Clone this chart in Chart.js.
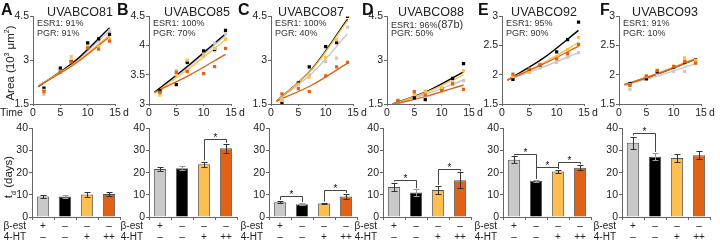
<!DOCTYPE html>
<html>
<head>
<meta charset="utf-8">
<script src="https://cdn.jsdelivr.net/npm/chart.js@4.4.0/dist/chart.umd.min.js"></script>
<style>
body { margin: 0; background: #fff; font-family: "Liberation Sans", Arial, sans-serif; }
#fig { position: relative; width: 720px; height: 242px; overflow: hidden; }
#fig canvas { position: absolute; }
.t { position: absolute; white-space: nowrap; color: #222; line-height: 1; }
</style>
</head>
<body>
<div id="fig"></div>
<script>
// ---- data ----
var days = [2, 5, 7, 10, 12, 14];
var fitDays = [1, 7.5, 14];
var titles = ['UVABCO81', 'UVABCO85', 'UVABCO87', 'UVABCO88', 'UVABCO92', 'UVABCO93'];
var letters = ['A', 'B', 'C', 'D', 'E', 'F'];
var esr1 = ['91%', '100%', '100%', '96%', '95%', '91%'];
var pgr = ['91%', '70%', '40%', '50%', '90%', '10%'];

// y axis of the growth panels (10^3 um^2)
var areaMin = [1.5, 3, 1.5, 1.5, 1.5, 1.5];
var areaMax = [4.5, 4.5, 4.5, 4.5, 3, 3];
var areaStep = [1.5, 0.5, 1.5, 1.5, 0.5, 0.5];

// measured areas per panel, at the days above
var areaGrey = [
   [1.83, 2.68, 3.00, 3.50, 3.65, 4.00],
   [3.20, 3.57, 3.70, 3.88, 4.04, 4.20],
   [1.65, 2.15, 2.50, 2.95, 3.07, 4.13],
   [1.55, 1.80, 1.75, 1.98, 2.28, 2.30],
   [1.93, 2.05, 2.12, 2.21, 2.30, 2.38],
   [1.75, 1.95, 2.02, 2.06, 2.06, 2.20]
];
var areaBlack = [
   [2.04, 2.73, 2.95, 3.59, 3.73, 3.88],
   [3.23, 3.33, 3.71, 3.91, 3.93, 4.26],
   [1.53, 2.22, 2.77, 3.46, 3.60, 4.50],
   [1.58, 1.71, 1.65, 2.03, 2.38, 2.88],
   [1.92, 2.08, 2.17, 2.39, 2.60, 2.90],
   [1.85, 1.93, 2.05, 2.13, 2.22, 2.26]
];
var areaYellow = [
   [1.97, 2.62, 3.12, 3.47, 3.45, 3.72],
   [3.15, 3.50, 3.75, 3.82, 3.95, 4.11],
   [1.62, 2.18, 2.42, 3.09, 3.69, 4.53],
   [1.60, 1.85, 1.95, 2.05, 2.25, 2.63],
   [1.97, 2.04, 2.18, 2.30, 2.43, 2.64],
   [1.83, 1.97, 2.08, 2.15, 2.29, 2.25]
];
var areaOrange = [
   [1.92, 2.60, 2.94, 3.41, 3.38, 3.65],
   [3.20, 3.54, 3.56, 3.52, 3.64, 3.95],
   [1.85, 2.03, 1.92, 2.46, 2.77, 2.92],
   [1.62, 1.92, 1.80, 1.96, 2.19, 2.00],
   [2.01, 2.10, 2.17, 2.27, 2.36, 2.52],
   [1.82, 1.98, 2.07, 2.14, 2.23, 2.20]
];

// fitted curves, read at fitDays
var fitGrey = [[2.10, 2.92, 4.00], [3.20, 3.66, 4.17], [1.60, 2.55, 3.90], [1.50, 1.86, 2.32], [1.91, 2.13, 2.38], [1.82, 1.99, 2.19]];
var fitBlack = [[2.10, 2.94, 4.11], [3.20, 3.68, 4.20], [1.60, 2.70, 4.40], [1.50, 1.95, 2.60], [1.91, 2.28, 2.76], [1.83, 2.03, 2.27]];
var fitYellow = [[2.12, 2.88, 3.85], [3.18, 3.62, 4.10], [1.60, 2.68, 4.35], [1.50, 1.92, 2.50], [1.91, 2.20, 2.55], [1.83, 2.04, 2.28]];
var fitOrange = [[2.12, 2.85, 3.80], [3.20, 3.50, 3.85], [1.60, 2.15, 2.90], [1.48, 1.78, 2.15], [1.91, 2.18, 2.49], [1.83, 2.03, 2.27]];

// doubling time t_d (days): grey, black, yellow, orange
var betaEst = ['+', '\u2013', '\u2013', '\u2013'];
var fourHT = ['\u2013', '\u2013', '+', '++'];
var tdMean = [
   [9.3, 9.2, 10.2, 10.4],
   [21.7, 22.0, 23.8, 31.0],
   [6.7, 5.8, 6.1, 9.2],
   [13.5, 11.0, 12.2, 16.6],
   [25.8, 16.3, 20.5, 22.2],
   [33.5, 27.2, 26.6, 27.9]
];
var tdErr = [
   [0.7, 0.8, 1.0, 1.0],
   [1.0, 1.0, 1.2, 2.0],
   [0.5, 0.5, 0.4, 1.2],
   [2.0, 1.5, 1.8, 3.5],
   [1.5, 0.5, 0.8, 1.2],
   [2.8, 1.7, 1.7, 1.7]
];
// significance brackets: [from bar, to bar, level]
var sigs = [
   [],
   [[2, 3, 35]],
   [[0, 1, 9.5], [2, 3, 12.1]],
   [[0, 1, 16.9], [2, 3, 21.6]],
   [[0, 1, 28.6], [1, 2, 22.6], [2, 3, 24.9]],
   [[0, 1, 38]]
];

// ---- layout ----
var FONT = '"Liberation Sans", Arial, sans-serif';
var condColors = ['#c9c9c9', '#000000', '#fdbf4f', '#df6216'];
var axisColor = '#666';
var topAxisX = [33, 149, 271, 387, 502, 619];
var botAxisX = [32, 149, 269, 383, 503, 622];
var titleX = [80, 197, 311, 431, 544, 665];
var letterX = [1, 117, 238, 362, 478, 600];
var TOP_Y = 16, TOP_H = 88, TOP_W = 82;
var BOT_Y = 128, BOT_H = 89, BOT_W = 88;

var fig = document.getElementById('fig');

function addText(html, x, y, css) {
   var d = document.createElement('div');
   d.className = 't';
   d.innerHTML = html;
   d.style.left = x + 'px';
   d.style.top = y + 'px';
   d.style.cssText += css || '';
   fig.appendChild(d);
   return d;
}

function addCanvas(x, y, w, h) {
   var c = document.createElement('canvas');
   c.width = w; c.height = h;
   c.style.left = x + 'px'; c.style.top = y + 'px';
   c.style.width = w + 'px'; c.style.height = h + 'px';
   fig.appendChild(c);
   return c;
}

function pts(xs, ys) {
   return xs.map(function (x, i) { return { x: x, y: ys[i] }; });
}

function tickFont() { return { family: FONT, size: 10.5 }; }

// 3.0 -> "3", 4.5 -> "4.5"
function plainNum(v) { return String(Math.round(v * 100) / 100); }

function topChart(p) {
   var padTop = 7, padRight = 8, yw = 24, xh = 13;
   var cv = addCanvas(topAxisX[p] - yw, TOP_Y - padTop, yw + TOP_W + padRight, padTop + TOP_H + xh);
   var series = [areaOrange, areaYellow, areaBlack, areaGrey];
   var fits = [fitOrange, fitYellow, fitBlack, fitGrey];
   var cols = [condColors[3], condColors[2], condColors[1], condColors[0]];
   var sets = [];
   series.forEach(function (s, k) {
      sets.push({
         type: 'scatter', data: pts(days, s[p]),
         pointStyle: 'rect', pointRadius: 2.3, pointBorderWidth: 0,
         backgroundColor: cols[k], borderColor: cols[k]
      });
   });
   fits.forEach(function (f, k) {
      sets.push({
         type: 'line', data: pts(fitDays, f[p]),
         borderColor: cols[k], borderWidth: 1.4, pointRadius: 0,
         cubicInterpolationMode: 'monotone', fill: false
      });
   });
   new Chart(cv, {
      type: 'scatter',
      data: { datasets: sets },
      options: {
         responsive: false, animation: false, devicePixelRatio: 1,
         layout: { padding: { top: padTop, right: padRight, left: 0, bottom: 0 } },
         plugins: { legend: { display: false }, tooltip: { enabled: false } },
         scales: {
            x: {
               type: 'linear', min: 0, max: 15,
               afterFit: function (s) { s.height = xh; },
               ticks: { stepSize: 5, font: tickFont(), color: '#222', padding: 1, maxRotation: 0 },
               grid: { drawOnChartArea: false, tickLength: 2, color: axisColor },
               border: { color: axisColor }
            },
            y: {
               min: areaMin[p], max: areaMax[p],
               afterFit: function (s) { s.width = yw; },
               ticks: { stepSize: areaStep[p], font: tickFont(), color: '#222', padding: 1, callback: plainNum },
               grid: { drawOnChartArea: false, tickLength: 3, color: axisColor },
               border: { color: axisColor }
            }
         }
      }
   });
}

function errorPlugin(p) {
   return {
      id: 'err' + p,
      afterDatasetsDraw: function (chart) {
         var ctx = chart.ctx, y = chart.scales.y;
         var bars = chart.getDatasetMeta(0).data;
         ctx.save();
         ctx.lineWidth = 1;
         bars.forEach(function (b, i) {
            var hi = Math.round(y.getPixelForValue(tdMean[p][i] + tdErr[p][i])) + 0.5;
            var lo = Math.round(y.getPixelForValue(tdMean[p][i] - tdErr[p][i])) + 0.5;
            var x = Math.round(b.x) + 0.5;
            ctx.strokeStyle = i === 1 ? '#9a9a9a' : '#333';
            ctx.beginPath();
            ctx.moveTo(x, hi); ctx.lineTo(x, lo);
            ctx.moveTo(x - 3, hi); ctx.lineTo(x + 3, hi);
            ctx.moveTo(x - 3, lo); ctx.lineTo(x + 3, lo);
            ctx.stroke();
         });
         ctx.strokeStyle = '#444';
         ctx.fillStyle = '#111';
         ctx.font = '10px ' + FONT;
         ctx.textAlign = 'center';
         ctx.textBaseline = 'alphabetic';
         sigs[p].forEach(function (s) {
            var a = s[0], c = s[1];
            var xa = Math.round(bars[a].x) + 0.5, xc = Math.round(bars[c].x) + 0.5;
            var py = Math.round(y.getPixelForValue(s[2])) + 0.5;
            var ya = y.getPixelForValue(tdMean[p][a] + tdErr[p][a]) - 1;
            var yc = y.getPixelForValue(tdMean[p][c] + tdErr[p][c]) - 1;
            ctx.beginPath();
            ctx.moveTo(xa, ya); ctx.lineTo(xa, py); ctx.lineTo(xc, py); ctx.lineTo(xc, yc);
            ctx.stroke();
            ctx.fillText('*', (xa + xc) / 2, py + 1);
         });
         ctx.restore();
      }
   };
}

function barChart(p) {
   var padTop = 7, padRight = 4, yw = 22, xh = 26;
   var cv = addCanvas(botAxisX[p] - yw, BOT_Y - padTop, yw + BOT_W + padRight, padTop + BOT_H + xh);
   var labels = betaEst.map(function (b, i) { return [b, fourHT[i]]; });
   new Chart(cv, {
      type: 'bar',
      data: {
         labels: labels,
         datasets: [{
            data: tdMean[p],
            backgroundColor: condColors,
            borderColor: '#555', borderWidth: 1,
            barPercentage: 0.56, categoryPercentage: 1
         }]
      },
      options: {
         responsive: false, animation: false, devicePixelRatio: 1,
         layout: { padding: { top: padTop, right: padRight, left: 0, bottom: 0 } },
         plugins: { legend: { display: false }, tooltip: { enabled: false } },
         scales: {
            x: {
               afterFit: function (s) { s.height = xh; },
               ticks: { font: { family: FONT, size: 10, lineHeight: 1.1 }, color: '#222', padding: 1, maxRotation: 0, autoSkip: false },
               grid: { drawOnChartArea: false, tickLength: 3, color: axisColor },
               border: { color: axisColor }
            },
            y: {
               min: 0, max: 40,
               afterFit: function (s) { s.width = yw; },
               ticks: { stepSize: 10, font: tickFont(), color: '#222', padding: 1 },
               grid: { drawOnChartArea: false, tickLength: 3, color: axisColor },
               border: { color: axisColor }
            }
         }
      },
      plugins: [errorPlugin(p)]
   });
}

for (var p = 0; p < 6; p++) {
   topChart(p);
   barChart(p);
   addText(letters[p], letterX[p], 2, 'font-weight:bold;font-size:16px;color:#111;');
   addText(titles[p], titleX[p], 6, 'font-size:12.5px;transform:translateX(-50%);');
   var esr = 'ESR1: ' + esr1[p] + (p === 3 ? '<span style="font-size:11px">(87b)</span>' : '');
   addText(esr, topAxisX[p] + 4, 19, 'font-size:9px;color:#333;');
   addText('PGR: ' + pgr[p], topAxisX[p] + 4, 29, 'font-size:9px;color:#333;');
   addText('d', topAxisX[p] + TOP_W + 8, TOP_Y + TOP_H + 3, 'font-size:10.5px;');
   addText('\u03b2-est', botAxisX[p] - 6, 221, 'font-size:10px;transform:translateX(-100%);');
   addText('4-HT', botAxisX[p] - 6, 232, 'font-size:10px;transform:translateX(-100%);');
}
addText('Time', 0, TOP_Y + TOP_H + 3, 'font-size:10.5px;');
addText('Area (10<sup style="font-size:7px">3</sup> \u03bcm<sup style="font-size:7px">2</sup>)', 10, 63,
   'font-size:11.5px;transform:translate(-50%,-50%) rotate(-90deg);');
addText('t<sub style="font-size:7px">d</sub> (days)', 10, 177,
   'font-size:11.5px;transform:translate(-50%,-50%) rotate(-90deg);');
</script>
</body>
</html>
